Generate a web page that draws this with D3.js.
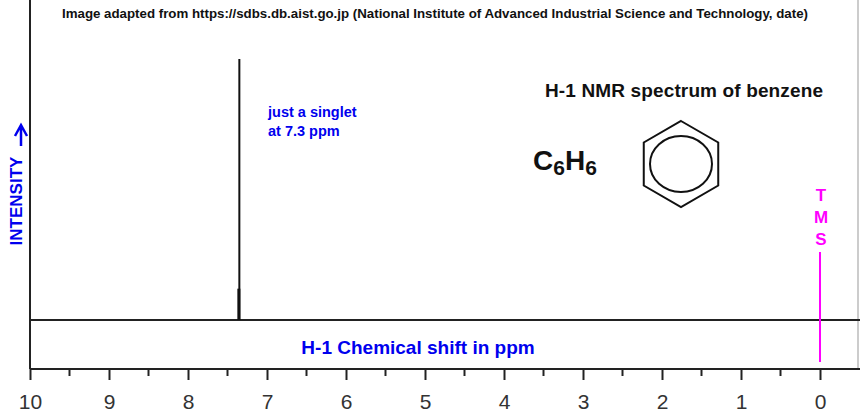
<!DOCTYPE html>
<html><head><meta charset="utf-8">
<script src="https://cdn.jsdelivr.net/npm/d3@7"></script>
<style>body{margin:0;background:#fff}text{font-family:Arial,"Liberation Sans",sans-serif}</style>
</head><body><div id="chart"></div>
<script>
// peaks: shift in ppm and relative height (0..1)
var peakShift = [7.35];
var peakHeight = [1.0];
var tmsShift = 0;
var majorTicks = [10, 9, 8, 7, 6, 5, 4, 3, 2, 1, 0];
var minorTicks = [9.5, 8.5, 7.5, 6.5, 5.5, 4.5, 3.5, 2.5, 1.5, 0.5];

var W = 860, H = 417;
var svg = d3.select("#chart").append("svg").attr("width", W).attr("height", H);

var x = d3.scaleLinear().domain([10, 0]).range([30, 820]);
var y = d3.scaleLinear().domain([0, 1]).range([320, 59]);
var axisY = 369;

// frame
svg.append("line").attr("x1", 30).attr("x2", 30).attr("y1", 0).attr("y2", axisY).attr("stroke", "#222").attr("stroke-width", 2);
svg.append("line").attr("x1", 858).attr("x2", 858).attr("y1", 0).attr("y2", axisY).attr("stroke", "#999").attr("stroke-width", 1);
svg.append("line").attr("x1", 30).attr("x2", 860).attr("y1", y(0)).attr("y2", y(0)).attr("stroke", "#222").attr("stroke-width", 2);

// axis
var ax = svg.append("g").attr("transform", "translate(0," + axisY + ")")
  .call(d3.axisBottom(x).tickValues(majorTicks).tickSize(11).tickPadding(14).tickFormat(d3.format("d")));
ax.select(".domain").attr("stroke", "#222").attr("stroke-width", 2).attr("d", "M30,0H860");
ax.selectAll(".tick line").attr("stroke", "#222").attr("stroke-width", 2);
ax.selectAll(".tick text").attr("font-size", 21).attr("fill", "#333").attr("font-family", "Verdana, DejaVu Sans, sans-serif");
svg.append("g").selectAll("line").data(minorTicks).join("line")
  .attr("x1", d => x(d)).attr("x2", d => x(d)).attr("y1", axisY).attr("y2", axisY + 7)
  .attr("stroke", "#222").attr("stroke-width", 2);

// peaks
svg.append("g").selectAll("line").data(peakShift).join("line")
  .attr("x1", d => x(d)).attr("x2", d => x(d)).attr("y1", y(0)).attr("y2", (d, i) => y(peakHeight[i]))
  .attr("stroke", "#111").attr("stroke-width", 2);
svg.append("g").selectAll("line").data(peakShift).join("line")
  .attr("x1", d => x(d) - 0.5).attr("x2", d => x(d) - 0.5).attr("y1", y(0)).attr("y2", (d, i) => y(peakHeight[i] * 0.12))
  .attr("stroke", "#111").attr("stroke-width", 3);

// TMS
svg.append("line").attr("x1", x(tmsShift)).attr("x2", x(tmsShift)).attr("y1", 252).attr("y2", 362)
  .attr("stroke", "#ff00ff").attr("stroke-width", 2);
["T", "M", "S"].forEach(function(c, i) {
  svg.append("text").attr("x", x(tmsShift) + 1).attr("y", 201 + i * 22).attr("text-anchor", "middle")
    .attr("font-size", 17).attr("font-weight", "bold").attr("fill", "#ff00ff").text(c);
});

// texts
svg.append("text").attr("x", 62).attr("y", 18).attr("font-size", 13.3).attr("font-weight", "bold").attr("fill", "#111")
  .attr("textLength", 746).text("Image adapted from https://sdbs.db.aist.go.jp (National Institute of Advanced Industrial Science and Technology, date)");
svg.append("text").attr("x", 545).attr("y", 97).attr("font-size", 19).attr("font-weight", "bold").attr("fill", "#111")
  .attr("textLength", 278).text("H-1 NMR spectrum of benzene");
svg.append("text").attr("x", 268).attr("y", 117).attr("font-size", 14.5).attr("font-weight", "bold").attr("fill", "#0000ee").text("just a singlet");
svg.append("text").attr("x", 268).attr("y", 136).attr("font-size", 14.5).attr("font-weight", "bold").attr("fill", "#0000ee").text("at 7.3 ppm");
var f = svg.append("text").attr("x", 533).attr("y", 170).attr("font-size", 28).attr("font-weight", "bold").attr("fill", "#111");
f.append("tspan").text("C");
f.append("tspan").attr("font-size", 21).attr("dy", 5).text("6");
f.append("tspan").attr("dy", -5).text("H");
f.append("tspan").attr("font-size", 21).attr("dy", 5).text("6");
svg.append("text").attr("x", 418).attr("y", 354).attr("text-anchor", "middle").attr("font-size", 19).attr("font-weight", "bold")
  .attr("fill", "#0000ee").text("H-1 Chemical shift in ppm");
svg.append("text").attr("transform", "translate(22,201) rotate(-90)").attr("text-anchor", "middle").attr("font-size", 17)
  .attr("font-weight", "bold").attr("fill", "#0000ee").text("INTENSITY");
// arrow
svg.append("path").attr("d", "M15,136 L21,125 L27,136 M21,125 V146").attr("fill", "none")
  .attr("stroke", "#0000ee").attr("stroke-width", 2.5);

// benzene
var cx = 681, cy = 164, r = 43;
var hex = d3.range(6).map(i => [cx + r * Math.sin(i * Math.PI / 3), cy - r * Math.cos(i * Math.PI / 3)]);
svg.append("polygon").attr("points", hex.map(p => p.join(",")).join(" ")).attr("fill", "none").attr("stroke", "#111").attr("stroke-width", 2);
svg.append("ellipse").attr("cx", cx).attr("cy", cy).attr("rx", 31).attr("ry", 28).attr("fill", "none").attr("stroke", "#111").attr("stroke-width", 2);
</script></body></html>
